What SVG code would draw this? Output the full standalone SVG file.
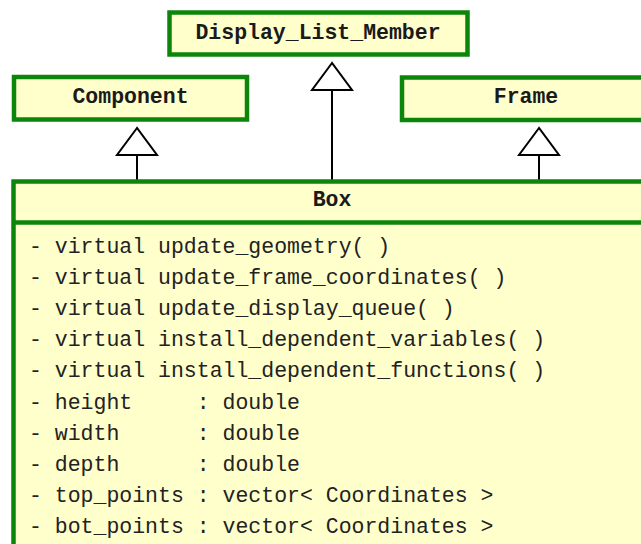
<svg xmlns="http://www.w3.org/2000/svg" width="641" height="544" viewBox="0 0 641 544">
<style>
.box{fill:#ffffcc;stroke:#0b860b;stroke-width:4.5}
.hd{font-family:"Liberation Mono","Courier New",monospace;font-size:21.5px;font-weight:bold;fill:#1a1a1a;text-anchor:middle}
.tx{font-family:"Liberation Mono","Courier New",monospace;font-size:21.5px;fill:#222;white-space:pre}
.tri{fill:#fff;stroke:#000;stroke-width:2}
.ln{stroke:#000;stroke-width:2;fill:none}
</style>
<rect width="641" height="544" fill="#fff"/>
<g id="connectors">
<line class="ln" x1="137" y1="155" x2="137" y2="180"/>
<polygon class="tri" points="137,128 117,155 157,155"/>
<line class="ln" x1="332" y1="90" x2="332" y2="180"/>
<polygon class="tri" points="332,63 312,90 352,90"/>
<line class="ln" x1="539" y1="155" x2="539" y2="180"/>
<polygon class="tri" points="539,128 519,155 559,155"/>
</g>
<g id="display_list_member">
<rect class="box" x="169.5" y="12.5" width="298" height="42"/>
<text class="hd" x="318" y="39">Display_List_Member</text>
</g>
<g id="component">
<rect class="box" x="14" y="77" width="233" height="42.5"/>
<text class="hd" x="130.5" y="103">Component</text>
</g>
<g id="frame">
<rect class="box" x="402" y="77.5" width="250" height="42.5"/>
<text class="hd" x="526" y="103">Frame</text>
</g>
<g id="box">
<rect class="box" x="13.5" y="181.5" width="640" height="380"/>
<line x1="13.5" y1="222.5" x2="653" y2="222.5" stroke="#0b860b" stroke-width="4.5"/>
<text class="hd" x="332" y="206">Box</text>
<text class="tx" xml:space="preserve" x="29" y="252.5">- virtual update_geometry( )</text>
<text class="tx" xml:space="preserve" x="29" y="283.7">- virtual update_frame_coordinates( )</text>
<text class="tx" xml:space="preserve" x="29" y="314.9">- virtual update_display_queue( )</text>
<text class="tx" xml:space="preserve" x="29" y="346.1">- virtual install_dependent_variables( )</text>
<text class="tx" xml:space="preserve" x="29" y="377.3">- virtual install_dependent_functions( )</text>
<text class="tx" xml:space="preserve" x="29" y="408.5">- height     : double</text>
<text class="tx" xml:space="preserve" x="29" y="439.7">- width      : double</text>
<text class="tx" xml:space="preserve" x="29" y="470.9">- depth      : double</text>
<text class="tx" xml:space="preserve" x="29" y="502.1">- top_points : vector&lt; Coordinates &gt;</text>
<text class="tx" xml:space="preserve" x="29" y="533.3">- bot_points : vector&lt; Coordinates &gt;</text>
</g>
</svg>
